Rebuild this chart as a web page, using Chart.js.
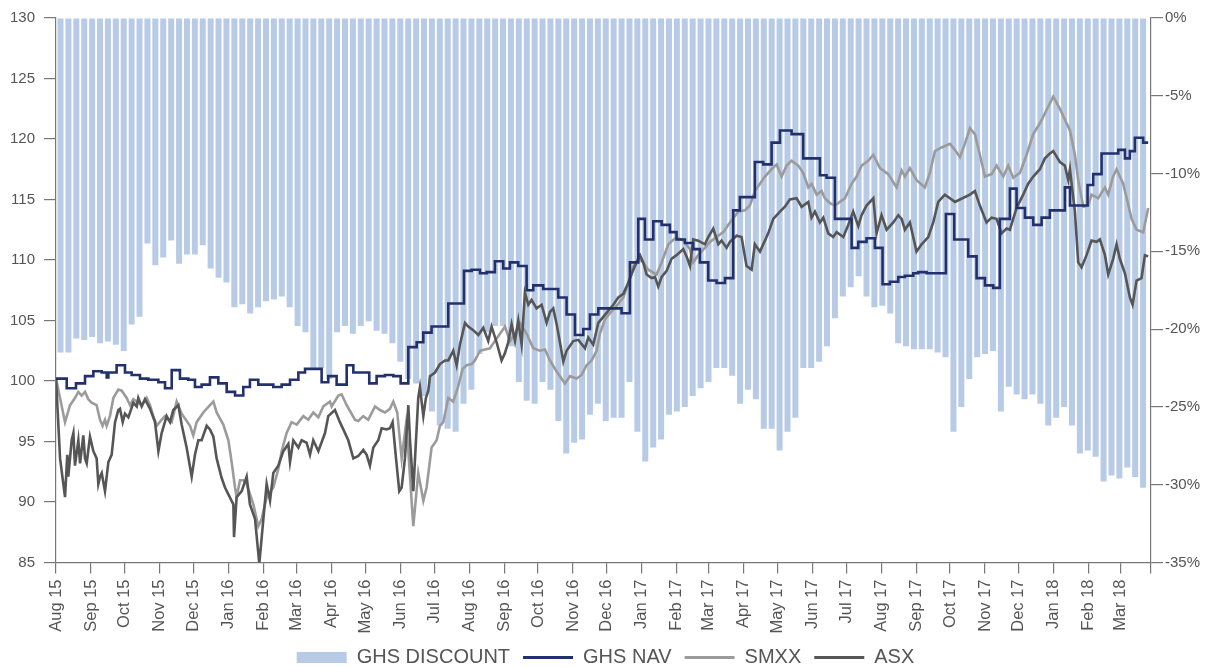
<!DOCTYPE html>
<html lang="en">
<head>
<meta charset="UTF-8">
<title>GHS discount vs NAV, SMXX and ASX</title>
<script src="https://cdn.jsdelivr.net/npm/chart.js"></script>
<style>
  html, body { margin: 0; padding: 0; background: #fff; }
  #chart { display: block; }
</style>
</head>
<body>
<canvas id="chart" width="1211" height="667"></canvas>
<script>
// month tick labels, first of each month from Aug 2015
const monthLabels = ['Aug 15','Sep 15','Oct 15','Nov 15','Dec 15','Jan 16','Feb 16','Mar 16','Apr 16','May 16',
  'Jun 16','Jul 16','Aug 16','Sep 16','Oct 16','Nov 16','Dec 16','Jan 17','Feb 17','Mar 17','Apr 17','May 17',
  'Jun 17','Jul 17','Aug 17','Sep 17','Oct 17','Nov 17','Dec 17','Jan 18','Feb 18','Mar 18'];

// weekly discount (%), one bar per week starting the week of 3 Aug 2015
const ghsDiscount = [
  -21.5,-21.5,-20.6,-20.7,-20.5,-20.9,-20.8,-21.0,-21.4,-19.7,
  -19.2,-14.5,-15.9,-15.4,-14.3,-15.8,-15.2,-15.2,-14.6,-16.1,
  -16.7,-17.0,-18.6,-18.4,-19.0,-18.6,-18.2,-18.1,-17.9,-18.6,
  -19.8,-20.2,-22.5,-22.5,-23.2,-20.2,-19.8,-20.3,-19.8,-19.5,
  -20.1,-20.3,-20.9,-22.1,-23.2,-23.5,-24.3,-25.3,-26.2,-26.4,
  -26.6,-24.8,-23.9,-21.6,-20.2,-19.8,-19.8,-21.1,-23.4,-24.6,
  -24.8,-23.4,-23.9,-25.9,-28.0,-27.3,-27.1,-25.5,-24.8,-25.9,
  -25.7,-25.7,-23.4,-26.6,-28.5,-27.6,-27.1,-25.5,-25.3,-25.0,
  -24.3,-23.8,-23.4,-22.5,-22.5,-23.0,-24.8,-23.9,-24.5,-26.4,
  -26.4,-27.8,-26.6,-25.7,-22.5,-22.5,-22.1,-21.1,-19.3,-17.9,
  -17.3,-16.6,-17.9,-18.6,-18.5,-19.0,-20.9,-21.1,-21.3,-21.3,
  -21.3,-21.5,-21.8,-26.6,-25.0,-23.2,-21.8,-21.6,-21.4,-25.3,
  -23.7,-24.2,-24.5,-24.2,-24.8,-26.2,-25.7,-25.0,-26.2,-28.0,
  -27.8,-28.2,-29.8,-29.4,-29.6,-28.9,-29.5,-30.2
];

// line series as [days since 1 Aug 2015, index level]
// GHS NAV: each pair is the day a new NAV level starts
const ghsNav = [
  [0,100.2],[9.5,99.4],[17.7,99.8],[25.7,100.4],[33.1,100.8],[40.5,100.7],[44.9,100.3],[46.4,100.7],
  [53.7,101.3],[61.1,100.7],[67.0,100.5],[74.4,100.2],[81.8,100.1],[90.7,99.9],[96.6,99.4],[102.5,100.9],
  [109.8,100.2],[117.2,100.1],[123.1,99.5],[129.0,99.7],[136.4,100.3],[143.8,99.8],[151.2,99.1],[158.6,98.8],
  [165.9,99.5],[171.8,100.1],[179.2,99.7],[192.5,99.5],[199.9,99.7],[207.3,100.1],[214.7,100.7],[220.6,101.0],
  [235.3,99.9],[241.2,100.4],[248.6,99.7],[257.5,101.3],[263.4,100.7],[277.5,99.8],[284.0,100.4],[291.4,100.5],
  [298.8,100.4],[305.3,99.8],[312.1,102.8],[319.5,103.2],[325.4,104.0],[332.7,104.5],[347.5,106.4],[361.4,109.1],
  [368.2,109.2],[375.6,108.9],[381.5,109.0],[388.8,109.9],[396.2,109.3],[402.1,109.8],[409.5,109.5],[416.9,107.5],
  [422.8,107.9],[431.6,107.6],[444.9,106.9],[452.3,105.5],[459.7,103.8],[467.1,104.3],[473.0,105.5],[480.4,106.0],
  [501.0,105.6],[508.4,109.8],[515.8,113.4],[521.7,111.7],[529.1,113.2],[536.5,112.9],[543.8,112.3],[549.7,111.7],
  [557.1,111.4],[564.5,110.9],[570.4,109.8],[577.8,108.3],[585.2,108.1],[592.6,108.5],[599.9,114.1],[605.8,115.2],
  [619.1,118.1],[626.5,117.9],[633.9,119.7],[641.3,120.7],[651.6,120.4],[661.9,118.4],[676.7,117.0],[682.6,116.8],
  [690.0,113.4],[704.8,111.0],[710.7,111.5],[718.0,111.8],[725.4,111.0],[732.2,108.0],[738.7,108.2],[746.1,108.6],
  [752.0,108.7],[759.4,108.9],[763.8,109.0],[771.2,108.9],[788.3,113.8],[795.7,111.7],[808.1,110.3],[815.5,108.5],
  [822.9,107.9],[830.2,107.7],[836.1,113.4],[845.0,115.9],[850.9,114.3],[858.3,113.5],[865.7,112.9],[873.1,113.5],
  [880.4,114.1],[893.7,116.0],[898.2,114.5],[913.8,116.2],[918.8,117.1],[926.2,118.8],[941.0,119.1],[946.9,118.4],
  [951.3,119.0],[955.7,120.1],[963.1,119.7],[967.5,119.7]
];
const smxx = [
  [0.0,100.2],[8.0,96.6],[12.4,98.0],[16.8,98.6],[19.8,99.1],[22.7,98.8],[25.7,99.1],[28.6,98.5],[31.6,98.2],
  [36.0,98.0],[39.0,96.8],[41.3,96.3],[43.4,96.8],[44.9,96.3],[47.8,97.1],[50.8,98.6],[55.2,99.3],[58.2,99.2],
  [62.6,98.6],[65.6,98.0],[68.5,98.5],[71.5,98.3],[75.9,98.0],[80.3,98.6],[83.3,98.0],[86.2,97.1],[89.2,96.3],
  [93.6,96.8],[96.6,97.1],[99.5,96.8],[102.5,96.6],[106.9,98.3],[111.3,97.3],[118.7,96.3],[121.6,95.5],[124.6,96.6],
  [130.5,97.4],[136.4,98.0],[139.4,98.3],[142.3,97.4],[148.2,96.4],[152.7,95.1],[155.6,93.3],[158.6,91.2],[160.0,90.4],
  [163.0,91.8],[165.9,91.8],[168.9,91.5],[174.8,89.8],[179.2,88.0],[182.2,88.6],[186.6,90.4],[192.5,91.2],[196.9,92.7],
  [199.9,94.2],[204.3,95.7],[208.7,96.6],[213.2,96.4],[219.1,97.1],[223.5,96.8],[227.9,97.4],[232.4,97.0],[236.8,97.9],
  [242.7,98.3],[244.2,97.9],[250.1,98.8],[253.0,98.9],[257.5,98.0],[264.8,96.8],[267.8,96.7],[272.2,97.1],[276.6,96.8],
  [282.6,97.9],[287.0,97.6],[291.4,97.4],[295.8,97.7],[298.8,98.3],[302.3,97.4],[306.2,93.6],[310.0,96.4],[312.1,94.2],
  [316.5,88.0],[320.9,92.4],[325.4,90.1],[328.3,91.2],[332.7,94.5],[337.2,95.1],[340.1,96.3],[343.1,96.6],[347.5,98.6],
  [351.9,98.3],[356.4,99.6],[360.2,101.0],[363.7,101.3],[368.2,101.4],[371.1,101.7],[375.6,102.5],[380.0,102.6],
  [384.4,102.7],[388.8,103.3],[393.3,103.9],[397.7,104.5],[402.1,103.3],[406.6,103.9],[411.0,104.8],[416.9,103.9],
  [422.8,102.7],[428.7,102.5],[433.1,102.6],[437.6,101.7],[442.0,101.0],[446.4,100.4],[450.8,99.8],[455.3,100.4],
  [461.2,100.2],[465.6,100.5],[470.0,101.3],[474.5,101.7],[478.9,102.5],[481.8,103.9],[486.3,105.1],[490.7,105.6],
  [496.6,106.2],[502.5,106.9],[506.9,108.1],[511.4,109.5],[515.8,110.1],[520.2,109.8],[524.7,109.2],[532.0,108.8],
  [536.5,109.8],[542.4,111.3],[549.7,111.9],[555.7,111.6],[561.6,110.9],[564.5,109.8],[568.9,110.4],[574.8,111.0],
  [579.3,111.5],[585.2,111.9],[591.1,112.3],[597.0,113.1],[604.4,114.0],[610.3,114.1],[614.7,114.5],[619.1,115.7],
  [623.6,116.3],[628.0,116.9],[633.9,117.5],[638.3,117.9],[642.8,116.9],[647.2,117.8],[651.6,118.2],[657.5,117.8],
  [661.9,117.2],[666.4,116.0],[669.3,116.3],[673.8,115.4],[678.2,115.7],[681.1,115.1],[685.6,114.7],[690.0,114.5],
  [694.4,114.8],[698.9,115.1],[704.8,116.3],[709.2,116.9],[713.6,117.8],[719.5,118.2],[724.0,118.7],[729.9,117.6],
  [737.2,117.1],[744.6,116.0],[749.1,117.4],[752.0,116.9],[756.4,117.6],[762.3,116.6],[769.7,116.0],[774.1,117.2],
  [778.6,119.0],[784.5,119.3],[791.9,119.6],[796.3,119.1],[800.7,118.5],[805.1,119.6],[809.6,120.9],[814.0,120.4],
  [818.4,118.7],[822.9,116.9],[828.8,117.1],[833.2,117.8],[839.1,116.9],[843.5,117.8],[848.0,116.8],[853.9,117.2],
  [859.8,118.7],[865.7,120.4],[871.6,121.3],[877.5,122.4],[883.4,123.5],[889.3,122.5],[893.7,121.6],[898.2,120.7],
  [902.6,118.7],[905.5,116.6],[910.0,114.4],[914.4,114.5],[917.3,115.4],[923.2,115.1],[929.2,116.0],[932.1,115.4],
  [936.5,116.9],[939.5,117.5],[945.4,116.3],[952.8,113.4],[957.2,112.5],[963.1,112.3],[967.5,114.3]
];
const asx = [
  [0.0,100.2],[3.6,93.6],[8.0,90.4],[10.0,93.9],[10.9,92.1],[13.9,95.1],[15.4,95.7],[16.8,93.0],[19.8,95.1],
  [21.3,93.2],[24.2,95.5],[25.7,93.6],[27.2,93.2],[30.1,95.4],[33.1,94.2],[36.0,93.6],[37.5,91.5],[39.0,92.1],
  [40.5,92.4],[43.4,90.9],[46.4,93.3],[49.3,93.9],[52.3,96.6],[55.2,97.6],[56.7,97.7],[59.1,96.6],[61.1,97.3],
  [64.1,97.0],[68.5,98.2],[71.5,97.9],[72.9,98.6],[75.9,97.9],[78.8,98.5],[83.3,97.7],[87.7,96.6],[90.7,94.2],
  [93.6,95.7],[98.0,97.1],[101.0,96.6],[103.9,97.6],[108.4,98.0],[111.3,96.4],[115.7,94.5],[120.2,92.1],[123.1,93.9],
  [126.1,95.1],[129.0,95.1],[133.5,96.3],[136.4,96.0],[139.4,95.4],[142.3,93.6],[146.7,92.0],[149.7,91.2],[157.1,89.8],
  [157.7,87.1],[160.0,90.4],[164.5,90.9],[168.9,92.1],[171.8,89.8],[176.3,88.6],[180.1,84.9],[183.7,88.6],[186.6,91.5],
  [189.6,90.1],[192.5,92.4],[196.9,93.0],[201.4,94.2],[205.8,94.8],[207.3,93.3],[210.2,95.1],[214.7,94.5],[217.6,95.1],
  [222.0,94.9],[225.0,93.9],[227.9,95.1],[232.4,94.2],[238.3,95.7],[241.2,97.1],[247.1,97.6],[251.5,96.6],[254.5,96.0],
  [258.9,95.1],[263.4,93.6],[267.8,93.8],[272.2,94.3],[275.2,93.9],[278.1,93.0],[281.1,94.5],[285.5,95.1],[288.5,96.1],
  [292.9,96.0],[295.8,96.1],[298.2,96.6],[301.2,93.6],[304.1,90.9],[306.2,91.2],[309.1,93.6],[312.1,98.0],[313.6,95.1],
  [316.5,90.9],[320.9,98.6],[322.4,99.5],[325.4,97.1],[327.7,98.6],[329.8,99.2],[331.3,100.4],[335.7,100.7],[340.1,101.4],
  [344.6,101.7],[347.5,101.7],[351.9,102.5],[354.9,101.3],[357.8,103.0],[362.3,104.8],[365.2,104.5],[369.6,104.2],
  [374.1,103.8],[378.5,104.4],[382.9,103.3],[385.9,104.5],[390.3,103.2],[394.7,101.7],[397.7,102.3],[400.6,103.2],
  [403.6,104.7],[406.6,103.3],[409.5,105.0],[412.5,103.0],[415.4,107.3],[418.4,106.3],[421.3,106.7],[425.7,106.0],
  [430.2,106.3],[434.6,104.8],[437.6,105.7],[440.5,106.0],[443.5,104.7],[446.4,103.2],[449.4,101.6],[452.3,102.5],
  [458.2,103.3],[462.7,103.4],[468.6,102.7],[471.5,103.6],[475.9,103.0],[480.4,104.8],[484.8,105.3],[489.2,105.8],
  [493.7,106.3],[498.1,106.9],[502.5,107.2],[506.9,108.1],[511.4,109.2],[517.3,110.4],[520.2,109.8],[523.2,108.8],
  [527.6,108.5],[530.6,108.6],[533.5,107.8],[536.5,108.6],[540.9,109.1],[545.3,110.1],[549.7,110.4],[555.7,110.9],
  [558.6,110.3],[561.6,109.5],[564.5,111.7],[568.9,111.6],[574.8,111.3],[577.8,111.9],[582.2,112.6],[586.7,111.3],
  [589.6,111.6],[594.0,111.0],[597.0,111.5],[602.9,112.0],[607.3,111.9],[611.7,109.5],[616.2,109.2],[619.1,111.3],
  [623.6,110.7],[628.0,111.6],[630.9,112.2],[635.4,113.4],[641.3,114.0],[645.7,114.4],[650.1,115.0],[656.0,115.1],
  [660.5,114.4],[666.4,114.8],[669.3,113.5],[672.3,114.0],[676.7,113.1],[679.7,113.5],[684.1,112.2],[688.5,111.9],
  [691.5,112.3],[697.4,111.9],[701.8,112.9],[706.2,114.0],[710.7,112.8],[713.6,113.7],[718.0,114.5],[724.0,115.1],
  [726.9,112.2],[731.3,113.7],[735.8,112.5],[741.7,113.1],[746.1,113.7],[749.1,113.4],[752.0,112.5],[756.4,113.1],
  [762.3,110.7],[766.8,111.3],[772.7,111.9],[777.1,113.1],[781.5,114.8],[787.4,115.4],[791.9,115.1],[796.3,114.8],
  [800.7,115.0],[809.6,115.4],[814.0,115.7],[818.4,114.5],[824.3,113.1],[828.8,113.5],[833.2,113.4],[837.6,112.2],
  [842.1,112.6],[845.0,112.5],[850.9,114.3],[856.8,115.4],[861.2,116.3],[865.7,116.9],[871.6,117.5],[876.0,118.4],
  [880.4,118.8],[883.4,119.0],[889.3,118.1],[893.7,117.8],[896.7,116.6],[898.2,117.5],[902.6,114.0],[905.5,109.8],
  [908.5,109.4],[912.9,110.4],[917.3,111.6],[921.8,111.5],[924.7,111.7],[929.2,110.4],[932.1,108.8],[936.5,110.1],
  [939.5,111.3],[942.4,110.1],[946.9,108.9],[951.3,106.9],[953.7,106.3],[957.2,108.3],[961.6,108.5],[964.6,110.4],
  [967.5,110.3]
];

// x axis runs in days from 1 Aug 2015
const DAY = 86400000;
const axisStart = Date.UTC(2015, 7, 1);
const axisEnd = 970;
const monthDays = monthLabels.map((m, k) => (Date.UTC(2015, 7 + k, 1) - axisStart) / DAY);
const weekDays = ghsDiscount.map((v, i) => 4 + 7 * i); // mid-week of each week

const barPoints = ghsDiscount.map((y, i) => ({ x: weekDays[i], y: y }));
const linePoints = (pairs) => pairs.map(p => ({ x: p[0], y: p[1] }));

const FONT = "'Liberation Sans', Arial, Helvetica, sans-serif";
const AXIS = '#777';
const TEXT = '#555';

new Chart(document.getElementById('chart').getContext('2d'), {
  type: 'bar',
  data: {
    datasets: [
      {
        type: 'bar',
        label: 'GHS DISCOUNT',
        data: barPoints,
        yAxisID: 'y2',
        backgroundColor: '#b8cbe6',
        borderWidth: 0,
        categoryPercentage: 1,
        barPercentage: 0.76,
        order: 10
      },
      {
        type: 'line',
        label: 'GHS NAV',
        data: linePoints(ghsNav),
        yAxisID: 'y',
        borderColor: '#22306d',
        backgroundColor: '#22306d',
        borderWidth: 2.6,
        pointRadius: 0,
        stepped: 'before',
        order: 1
      },
      {
        type: 'line',
        label: 'SMXX',
        data: linePoints(smxx),
        yAxisID: 'y',
        borderColor: '#9b9b9b',
        backgroundColor: '#9b9b9b',
        borderWidth: 2.6,
        pointRadius: 0,
        order: 3
      },
      {
        type: 'line',
        label: 'ASX',
        data: linePoints(asx),
        yAxisID: 'y',
        borderColor: '#565656',
        backgroundColor: '#565656',
        borderWidth: 2.6,
        pointRadius: 0,
        order: 2
      }
    ]
  },
  options: {
    responsive: false,
    animation: false,
    devicePixelRatio: 1,
    // the negative bottom padding eats the fixed gap Chart.js leaves under the legend
    layout: { padding: { top: 16, left: 0, right: 0, bottom: -10.5 } },
    plugins: {
      tooltip: { enabled: false },
      legend: {
        position: 'bottom',
        labels: {
          usePointStyle: true,
          pointStyleWidth: 50,
          boxHeight: 11,
          padding: 13,
          color: TEXT,
          font: { family: FONT, size: 20 },
          generateLabels: (chart) => chart.data.datasets.map((ds, i) => ({
            text: ds.label,
            datasetIndex: i,
            fillStyle: ds.backgroundColor,
            strokeStyle: ds.borderColor || ds.backgroundColor,
            lineWidth: ds.type === 'bar' ? 0 : 3,
            pointStyle: ds.type === 'bar' ? 'rect' : 'line',
            fontColor: TEXT,
            hidden: false
          }))
        }
      }
    },
    scales: {
      x: {
        type: 'linear',
        min: 0,
        max: axisEnd,
        offset: false,
        afterBuildTicks: (scale) => {
          scale.ticks = monthDays.concat([axisEnd]).map(v => ({ value: v }));
        },
        afterFit: (scale) => { scale.height = 72; },
        grid: { drawOnChartArea: false, offset: false, tickLength: 11, color: AXIS, lineWidth: 1.2 },
        border: { color: AXIS, width: 1.2 },
        ticks: {
          autoSkip: false,
          maxRotation: 90,
          minRotation: 90,
          padding: 6,
          color: TEXT,
          font: { family: FONT, size: 16.5 },
          callback: (value, index) => monthLabels[index] || ''
        }
      },
      y: {
        position: 'left',
        min: 85,
        max: 130,
        afterFit: (scale) => { scale.width = 56; },
        grid: { drawOnChartArea: false, tickLength: 12, color: AXIS, lineWidth: 1.2 },
        border: { color: AXIS, width: 1.2 },
        ticks: { stepSize: 5, padding: 9, color: TEXT, font: { family: FONT, size: 15 } }
      },
      y2: {
        position: 'right',
        min: -35,
        max: 0,
        afterFit: (scale) => { scale.width = 60; },
        grid: { drawOnChartArea: false, tickLength: 12, color: AXIS, lineWidth: 1.2 },
        border: { color: AXIS, width: 1.2 },
        ticks: {
          stepSize: 5,
          padding: 2,
          color: TEXT,
          font: { family: FONT, size: 15 },
          callback: (v) => v + '%'
        }
      }
    }
  }
});
</script>
</body>
</html>
